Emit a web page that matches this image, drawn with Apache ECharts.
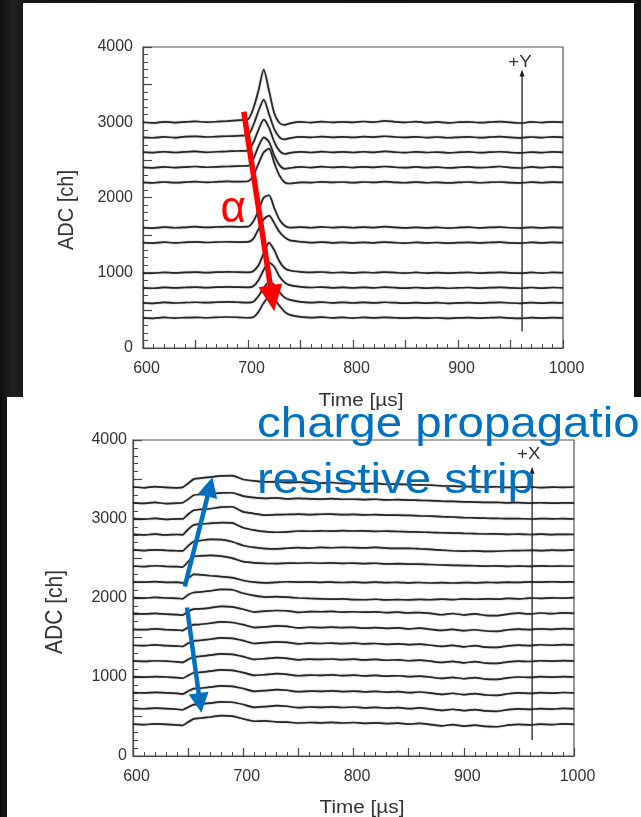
<!DOCTYPE html>
<html>
<head>
<meta charset="utf-8">
<script src="https://cdn.jsdelivr.net/npm/echarts@6/dist/echarts.min.js"></script>
<style>
  html, body { margin: 0; padding: 0; }
  body { background: linear-gradient(90deg, #0e0e0e 0%, #222 2%, #161616 4%, #121212 100%); }
  #c { width: 641px; height: 817px; }
</style>
</head>
<body>
<div id="c"></div>
<script>
// ---- Y-strip readout (upper panel) ----
const timeY = [600,610,620,630,640,650,660,670,680,690,700,705,710,715,720,725,730,735,740,
  750,760,770,780,790,800,810,820,830,840,850,860,870,880,890,900,910,920,930,940,950,960,970,980,990,1000];

const yStrip1  = [3000,2992,3006,2996,3004,3012,3002,3008,3016,3026,3040,3180,3420,3700,3420,3120,2990,2965,2985,3004,2996,3008,2998,3006,2998,3010,3002,3018,3006,2998,3008,2994,3004,2992,3000,3006,2994,3002,3008,2998,2990,3004,2996,3006,3000];
const yStrip2  = [2800,2794,2806,2796,2808,2812,2804,2810,2814,2820,2830,2960,3150,3300,3110,2910,2800,2772,2790,2806,2798,2810,2800,2806,2798,2808,2802,2814,2804,2798,2806,2796,2804,2794,2800,2806,2796,2802,2808,2798,2792,2804,2796,2806,2800];
const yStrip3  = [2602,2596,2608,2598,2606,2612,2600,2608,2612,2618,2622,2730,2900,3035,2930,2740,2620,2578,2592,2606,2598,2610,2600,2606,2598,2608,2600,2612,2604,2596,2606,2598,2604,2594,2600,2606,2596,2602,2608,2598,2592,2604,2596,2606,2600];
const yStrip4  = [2400,2394,2406,2398,2404,2412,2402,2408,2412,2418,2420,2510,2680,2800,2740,2560,2430,2382,2392,2406,2398,2410,2400,2406,2398,2408,2400,2412,2402,2396,2406,2396,2404,2394,2400,2406,2396,2402,2412,2398,2392,2406,2396,2408,2400];
const yStrip5  = [2200,2194,2206,2198,2204,2210,2202,2208,2214,2210,2216,2290,2450,2600,2650,2460,2290,2200,2186,2202,2198,2208,2200,2206,2198,2206,2200,2210,2202,2196,2204,2196,2202,2194,2200,2206,2196,2202,2206,2198,2194,2204,2196,2204,2200];
const yStrip6  = [1600,1594,1606,1598,1604,1612,1602,1608,1614,1610,1612,1680,1830,2000,2030,1860,1705,1625,1600,1606,1598,1610,1600,1606,1598,1606,1600,1612,1602,1596,1604,1596,1602,1594,1600,1606,1596,1602,1606,1598,1594,1604,1596,1604,1600];
const yStrip7  = [1400,1394,1406,1398,1404,1410,1402,1408,1412,1408,1410,1450,1580,1710,1760,1660,1540,1470,1430,1412,1400,1408,1398,1404,1396,1404,1398,1408,1400,1394,1404,1396,1402,1394,1400,1404,1396,1402,1406,1398,1394,1404,1396,1404,1400];
const yStrip8  = [1000,994,1006,998,1004,1008,1002,1008,1012,1008,1006,1020,1100,1260,1400,1300,1150,1060,1030,1012,1004,1010,1000,1006,998,1006,1000,1008,1002,996,1004,996,1002,994,1000,1004,996,1002,1006,998,994,1004,996,1004,1000];
const yStrip9  = [800,794,806,798,804,808,802,808,812,808,806,820,900,1040,1135,1080,950,870,835,812,804,810,800,806,798,806,800,808,802,796,804,796,802,794,800,804,796,802,806,798,794,804,796,804,800];
const yStrip10 = [600,594,606,598,604,608,602,608,612,608,604,615,690,800,872,840,740,670,640,614,604,610,600,606,598,606,600,608,602,596,604,596,602,594,600,604,596,602,606,598,594,604,596,604,600];
const yStrip11 = [400,394,406,398,404,408,402,408,412,408,402,410,480,600,672,650,560,480,440,414,404,410,400,406,398,406,400,408,402,396,404,396,402,394,400,404,396,402,406,398,394,404,396,404,400];

// ---- X-strip readout (lower panel) ----
const timeX = [600,610,620,630,640,645,650,655,660,670,680,690,700,710,720,730,740,750,760,770,
  780,790,800,810,820,830,840,850,860,870,880,890,900,910,920,930,940,950,960,970,980,990,1000];

const xStrip1  = [3405,3395,3410,3400,3395,3400,3450,3505,3515,3530,3545,3548,3500,3482,3470,3472,3460,3466,3458,3455,3462,3450,3452,3445,3450,3440,3442,3435,3432,3428,3420,3416,3412,3410,3405,3408,3400,3402,3406,3398,3404,3400,3405];
const xStrip2  = [3205,3198,3210,3195,3200,3205,3250,3300,3310,3318,3330,3332,3290,3270,3262,3268,3255,3260,3256,3252,3258,3250,3250,3246,3250,3242,3245,3240,3236,3232,3226,3222,3218,3214,3210,3212,3205,3208,3202,3206,3200,3204,3202];
const xStrip3  = [3004,2998,3008,2996,3002,3000,3060,3110,3120,3130,3150,3155,3090,3068,3050,3055,3058,3062,3056,3060,3062,3055,3058,3052,3056,3050,3048,3045,3040,3036,3030,3025,3018,3014,3010,3008,3004,3006,3000,3005,3002,3004,3000];
const xStrip4  = [2806,2800,2808,2798,2804,2800,2870,2925,2935,2945,2955,2950,2890,2860,2840,2832,2838,2848,2845,2850,2846,2852,2848,2850,2844,2846,2842,2838,2835,2830,2826,2822,2818,2815,2810,2812,2806,2808,2804,2808,2803,2806,2804];
const xStrip5  = [2608,2600,2610,2602,2598,2596,2660,2715,2725,2742,2738,2712,2665,2640,2625,2622,2630,2638,2632,2640,2636,2642,2638,2635,2640,2632,2628,2630,2622,2615,2605,2598,2594,2596,2590,2592,2598,2600,2604,2600,2606,2602,2608];
const xStrip6  = [2405,2398,2408,2400,2396,2392,2460,2525,2532,2540,2530,2505,2460,2445,2438,2436,2442,2440,2446,2440,2444,2438,2442,2436,2440,2432,2434,2430,2428,2424,2418,2414,2410,2408,2404,2406,2400,2404,2400,2406,2402,2405,2402];
const xStrip7  = [2204,2200,2208,2198,2200,2190,2250,2300,2296,2282,2270,2258,2222,2200,2192,2198,2206,2200,2204,2198,2202,2196,2200,2195,2200,2194,2198,2192,2196,2190,2194,2190,2195,2192,2198,2194,2200,2198,2204,2200,2206,2202,2204];
const xStrip8  = [2004,1998,2008,2000,1996,1990,2040,2070,2075,2090,2108,2104,2060,2030,2012,2018,2010,2000,1994,1990,1985,1988,1980,1978,1984,1976,1980,1976,1982,1978,1985,1980,1988,1984,1990,1986,1994,1990,1998,1996,2002,1998,2004];
const xStrip9  = [1805,1798,1806,1796,1790,1782,1830,1860,1862,1876,1895,1888,1858,1822,1835,1842,1838,1818,1828,1826,1830,1822,1826,1820,1824,1815,1820,1812,1816,1806,1788,1804,1784,1800,1780,1776,1796,1808,1798,1810,1802,1812,1806];
const xStrip10 = [1604,1600,1608,1598,1594,1588,1628,1662,1664,1680,1698,1690,1662,1626,1634,1646,1640,1622,1630,1624,1632,1626,1628,1618,1626,1616,1622,1610,1618,1604,1590,1602,1586,1598,1582,1578,1598,1606,1600,1610,1604,1612,1606];
const xStrip11 = [1402,1398,1406,1396,1392,1386,1426,1458,1462,1478,1494,1488,1460,1424,1436,1444,1438,1420,1428,1424,1430,1422,1428,1420,1424,1414,1420,1410,1416,1402,1388,1400,1382,1396,1378,1374,1394,1404,1398,1408,1402,1410,1404];
const xStrip12 = [1204,1198,1206,1200,1192,1184,1222,1256,1260,1276,1292,1286,1258,1222,1232,1244,1236,1218,1226,1222,1228,1220,1226,1216,1222,1212,1218,1206,1214,1200,1184,1198,1180,1194,1176,1172,1192,1202,1196,1206,1200,1208,1202];
const xStrip13 = [1004,998,1006,1000,992,984,1020,1054,1058,1074,1090,1084,1056,1020,1030,1042,1034,1016,1024,1020,1026,1018,1024,1014,1020,1010,1016,1004,1012,998,982,996,978,992,974,970,990,1000,994,1004,998,1006,1000];
const xStrip14 = [804,798,806,800,792,784,820,852,856,872,888,882,854,818,828,840,832,814,822,818,824,816,822,812,818,808,814,802,810,796,780,794,776,790,772,768,788,798,792,802,796,804,798];
const xStrip15 = [604,598,606,600,592,584,618,650,654,670,686,680,652,616,626,638,630,612,620,616,622,614,620,610,616,606,612,600,608,594,578,592,574,588,570,566,586,596,590,600,594,602,596];
const xStrip16 = [404,398,406,400,392,386,430,470,478,494,512,505,470,440,445,432,428,418,424,420,426,418,424,414,420,410,416,404,412,398,382,396,378,392,374,370,390,400,394,404,398,406,400];

const yStrips = [yStrip1,yStrip2,yStrip3,yStrip4,yStrip5,yStrip6,yStrip7,yStrip8,yStrip9,yStrip10,yStrip11];
const xStrips = [xStrip1,xStrip2,xStrip3,xStrip4,xStrip5,xStrip6,xStrip7,xStrip8,xStrip9,xStrip10,xStrip11,xStrip12,xStrip13,xStrip14,xStrip15,xStrip16];

// Tick labels
const timeTicks = [600, 700, 800, 900, 1000];
const adcTicks = [0, 1000, 2000, 3000, 4000];

const FONT = '"Liberation Sans", Arial, Helvetica, sans-serif';
const INK = '#333';

const chart = echarts.init(document.getElementById('c'), null, { renderer: 'canvas' });

function timeAxis(gridIndex, size) {
  return {
    type: 'value', gridIndex, min: 600, max: 1000, interval: 50,
    axisLine: { show: true, onZero: false, lineStyle: { color: '#444', width: 1.2 } },
    axisTick: { show: true, inside: true, length: 8, lineStyle: { color: '#444', width: 1.2 } },
    minorTick: { show: true, splitNumber: 5, length: 4, lineStyle: { color: '#444', width: 1 } },
    splitLine: { show: false },
    axisLabel: {
      fontFamily: FONT, fontSize: size, color: INK, margin: 13, padding: [0, 0, 0, 7],
      formatter: v => (timeTicks.includes(v) ? String(v) : '')
    }
  };
}
function adcAxis(gridIndex, size, margin) {
  return {
    type: 'value', gridIndex, min: 0, max: 4000, interval: 500,
    axisLine: { show: true, onZero: false, lineStyle: { color: '#444', width: 1.2 } },
    axisTick: { show: true, inside: true, length: 9, lineStyle: { color: '#444', width: 1.2 } },
    minorTick: { show: true, splitNumber: 5, length: 5, lineStyle: { color: '#444', width: 1 } },
    splitLine: { show: false },
    axisLabel: {
      fontFamily: FONT, fontSize: size, color: INK, margin,
      formatter: v => (adcTicks.includes(v) ? String(v) : '')
    }
  };
}

function traceSeries(times, values, gi, name, smooth) {
  return {
    type: 'line', name, xAxisIndex: gi, yAxisIndex: gi,
    data: times.map((t, i) => [t, values[i]]),
    showSymbol: false, smooth, silent: true, animation: false,
    lineStyle: { color: '#262626', width: 1.7, shadowBlur: 1.5, shadowColor: 'rgba(0,0,0,0.45)' }
  };
}

const series = [];
yStrips.forEach((v, i) => series.push(traceSeries(timeY, v, 0, 'Y strip ' + (i + 1), 0.25)));
xStrips.forEach((v, i) => series.push(traceSeries(timeX, v, 1, 'X strip ' + (i + 1), 0.15)));

chart.setOption({
  backgroundColor: 'transparent',
  animation: false,
  grid: [
    { left: 143, top: 47, width: 420, height: 301, show: true, borderColor: '#555', borderWidth: 1.2, backgroundColor: 'transparent' },
    { left: 133, top: 440, width: 441, height: 316, show: true, borderColor: '#555', borderWidth: 1.2, backgroundColor: 'transparent' }
  ],
  xAxis: [timeAxis(0, 16), timeAxis(1, 16)],
  yAxis: [adcAxis(0, 16, 10), adcAxis(1, 16, 6)],
  series
});

// ---- Annotations, placed in data coordinates of each panel ----
const alphaArrow = { from: [696, 3140], to: [725, 490], text: [686, 1841] };
const yDirArrow = { from: [961, 220], to: [961, 3700], text: [959, 3800] };
const blueUp = { from: [647, 2146], to: [672, 3530] };
const blueDown = { from: [649, 1879], to: [662, 546] };
const xDirArrow = { from: [962, 203], to: [962, 3660], text: [959, 3820] };

const px = (gi, p) => chart.convertToPixel({ gridIndex: gi }, p);

function arrow(p0, p1, width, headLen, headHalf, color) {
  const dx = p1[0] - p0[0], dy = p1[1] - p0[1];
  const len = Math.hypot(dx, dy);
  const ux = dx / len, uy = dy / len, nx = -uy, ny = ux;
  const bx = p1[0] - ux * headLen, by = p1[1] - uy * headLen;
  return [
    { type: 'line', z: 50, shape: { x1: p0[0], y1: p0[1], x2: bx + ux * 2, y2: by + uy * 2 },
      style: { stroke: color, lineWidth: width, lineCap: 'butt' } },
    { type: 'polygon', z: 50, shape: { points: [[p1[0], p1[1]], [bx + nx * headHalf, by + ny * headHalf], [bx - nx * headHalf, by - ny * headHalf]] },
      style: { fill: color } }
  ];
}

function label(pos, text, size, color, opts) {
  return Object.assign({
    type: 'text', z: 60, x: pos[0], y: pos[1],
    style: { text, fill: color, font: size + 'px ' + FONT, textAlign: 'center', textVerticalAlign: 'middle', align: 'center', verticalAlign: 'middle' }
  }, opts || {});
}

const red = '#ff0000', blue = '#0070c0';
const graphics = [
  // slide panels
  { type: 'rect', z: -10, shape: { x: 23, y: 3, width: 611, height: 394 }, style: { fill: '#ffffff' } },
  { type: 'rect', z: -10, shape: { x: 7, y: 397, width: 634, height: 420 }, style: { fill: '#ffffff' } },
  // axis titles
  label([67, 210], 'ADC [ch]', 20, INK, { rotation: Math.PI / 2, scaleY: 1.1 }),
  label([361, 401], 'Time [µs]', 18, INK, { scaleX: 1.15 }),
  label([56, 612], 'ADC [ch]', 21, INK, { rotation: Math.PI / 2, scaleY: 1.1 }),
  label([362, 808], 'Time [µs]', 18, INK, { scaleX: 1.15 }),
  // strip direction markers
  ...arrow(px(0, yDirArrow.from), px(0, yDirArrow.to), 1.3, 7, 2.5, '#222'),
  label(px(0, yDirArrow.text), '+Y', 17, INK, { scaleX: 1.1 }),
  ...arrow(px(1, xDirArrow.from), px(1, xDirArrow.to), 1.3, 7, 2.5, '#222'),
  label(px(1, xDirArrow.text), '+X', 17, INK, { scaleX: 1.1 }),
  // alpha track
  ...arrow(px(0, alphaArrow.from), px(0, alphaArrow.to), 5.5, 26, 12, red),
  label(px(0, alphaArrow.text), 'α', 44, red),
  // charge spread along the strip
  ...arrow(px(1, blueUp.from), px(1, blueUp.to), 4.5, 20, 10, blue),
  ...arrow(px(1, blueDown.from), px(1, blueDown.to), 4.5, 20, 10, blue),
  { type: 'text', z: 70, x: 257, y: 425, scaleX: 1.13,
    style: { text: 'charge propagatio', fill: blue, font: '42px ' + FONT, textAlign: 'left', textVerticalAlign: 'middle', align: 'left', verticalAlign: 'middle' } },
  { type: 'text', z: 70, x: 257, y: 481, scaleX: 1.13,
    style: { text: 'resistive strip', fill: blue, font: '42px ' + FONT, textAlign: 'left', textVerticalAlign: 'middle', align: 'left', verticalAlign: 'middle' } }
];

chart.setOption({ graphic: { elements: graphics } });
</script>
</body>
</html>
